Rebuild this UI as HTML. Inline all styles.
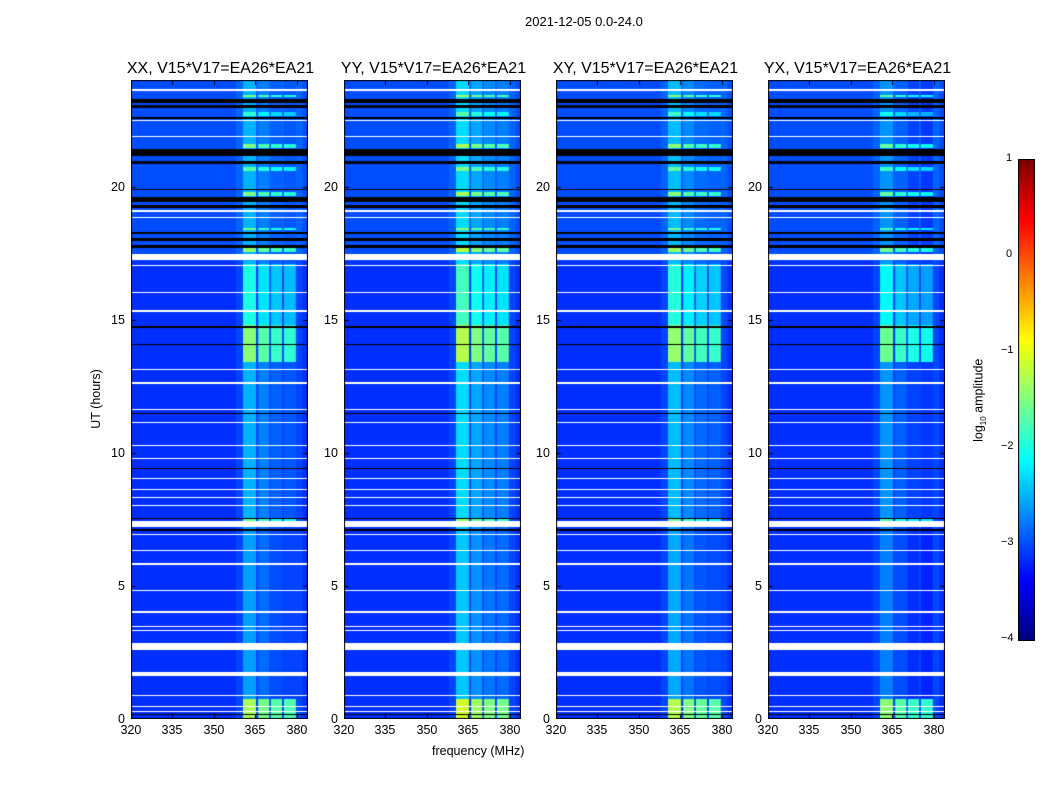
<!DOCTYPE html>
<html><head><meta charset="utf-8">
<style>
body{margin:0;background:#fff;font-family:"Liberation Sans",sans-serif;}
#wrap{position:relative;width:1050px;height:800px;overflow:hidden;}
.t{position:absolute;font-size:12.5px;color:#000;white-space:nowrap;}
.title{position:absolute;font-size:16px;white-space:nowrap;transform:translateX(-50%);}
canvas{position:absolute;}
</style></head>
<body>
<div id="wrap">
<div class="t" style="left:525px;top:14px;font-size:13px;">2021-12-05 0.0-24.0</div>
<div class="t" style="left:432px;top:744px;font-size:12.5px;">frequency (MHz)</div>
<div class="t" style="left:66px;top:392px;transform:rotate(-90deg);font-size:12.5px;">UT (hours)</div>
<div class="t" style="left:938px;top:392px;transform:rotate(-90deg);font-size:12.5px;">log<sub style="font-size:8px">10</sub> amplitude</div>
<canvas id="cb" width="17" height="482" style="left:1018px;top:159px;"></canvas>
</div>
<script>
const panelTitles=["XX, V15*V17=EA26*EA21","YY, V15*V17=EA26*EA21","XY, V15*V17=EA26*EA21","YX, V15*V17=EA26*EA21"];
const panelLeft=[131,344,556,768];
const panelBoost=[0,0.2,0.05,-0.15];
const xTicks=[320,335,350,365,380];
const yTicks=[0,5,10,15,20];
const cbTicks=[1,0,-1,-2,-3,-4];
const rfiBands=[[360.5,365.2],[366,370],[370.6,374.6],[375.3,379.6]];
const bandDrop=[0,0.25,0.4,0.45];
// [startHour,endHour,log10 level of RFI band]
const bandLevels=[[0,0.75,-1.3],[0.75,7.2,-2.6],[7.2,7.5,-1.6],[7.5,13.4,-2.5],[13.4,14.8,-1.45],[14.8,17.1,-2.0],[17.1,24,-2.5]];
// bright RFI rows in the upper part [start,end,level]
const brightRows=[[17.55,17.7,-1.4],[18.35,18.45,-1.6],[19.65,19.8,-1.5],[20.6,20.75,-1.7],[21.45,21.6,-1.5],[22.65,22.8,-1.9],[23.35,23.45,-1.5]];
const bgLevels=[[0,17.2,-3.15],[17.2,24,-3.0]];
// white (flagged) rows [start,end]
const whiteRows=[[0.25,0.3],[0.45,0.5],[0.85,0.9],[1.6,1.75],[2.6,2.85],[3.3,3.35],[3.45,3.5],[4.0,4.05],[4.8,4.85],[5.8,5.85],[6.3,6.35],[6.9,6.95],[7.2,7.45],[8.0,8.05],[8.3,8.35],[8.6,8.65],[9.0,9.05],[9.75,9.8],[10.25,10.3],[11.1,11.15],[11.6,11.65],[12.6,12.65],[13.1,13.15],[15.3,15.35],[16.0,16.05],[17.0,17.05],[17.25,17.45],[18.8,18.85],[19.05,19.1],[21.85,21.9],[22.45,22.5],[23.6,23.65]];
const blackRows=[[0.15,0.2],[7.05,7.12],[7.5,7.55],[9.38,9.43],[11.45,11.5],[14.05,14.1],[14.68,14.75],[17.7,17.8],[17.95,18.05],[18.2,18.3],[19.2,19.3],[19.4,19.6],[19.85,19.9],[20.85,20.95],[21.15,21.4],[22.55,22.6],[22.95,23.05],[23.15,23.3]];
const X0=320,X1=384,Y0=0,Y1=24,PW=177,PT=80,PH=639;
function jet(v){let t=Math.max(0,Math.min(1,(v+4)/5));
 const f=x=>Math.max(0,Math.min(1,1.5-Math.abs(4*t-x)));
 return 'rgb('+Math.round(255*f(3))+','+Math.round(255*f(2))+','+Math.round(255*f(1))+')';}
const wrap=document.getElementById('wrap');
function lvl(arr,h){for(const s of arr){if(h>=s[0]&&h<s[1])return s[2];}return arr[arr.length-1][2];}
function inR(arr,h){return arr.some(s=>h>=s[0]&&h<s[1]);}
panelTitles.forEach((title,p)=>{
 const L=panelLeft[p];
 const c=document.createElement('canvas');c.width=PW;c.height=PH;c.style.left=L+'px';c.style.top=PT+'px';
 
 
 wrap.appendChild(c);
 const g=c.getContext('2d');
 const xs=f=>(f-X0)/(X1-X0)*PW;
 for(let y=0;y<PH;y++){
  const h=Y1-(y+0.5)/PH*(Y1-Y0);
  if(inR(whiteRows,h)){g.fillStyle='#fff';g.fillRect(0,y,PW,1);continue;}
  if(inR(blackRows,h)){g.fillStyle='#000';g.fillRect(0,y,PW,1);continue;}
  g.fillStyle=jet(lvl(bgLevels,h));g.fillRect(0,y,PW,1);
  g.fillStyle=jet(lvl(bgLevels,h)+0.12);g.fillRect(xs(358),y,xs(382)-xs(358),1);
  let bl=lvl(bandLevels,h)+panelBoost[p];
  if(inR(brightRows,h)) bl=lvl(brightRows,h)+panelBoost[p];
  rfiBands.forEach((b,i)=>{g.fillStyle=jet(bl-bandDrop[i]);g.fillRect(xs(b[0]),y,xs(b[1])-xs(b[0]),1);});
 }
 g.strokeStyle='#000';g.lineWidth=1;g.strokeRect(0.5,0.5,PW-1,PH-1);
 xTicks.forEach(v=>{const x=Math.round(xs(v))+0.5;g.beginPath();g.moveTo(x,PH);g.lineTo(x,PH-5);g.moveTo(x,0);g.lineTo(x,5);g.stroke();
  const d=document.createElement('div');d.className='t';d.textContent=v;d.style.left=(L+x-11)+'px';d.style.top=(PT+PH+4)+'px';
  
  
  wrap.appendChild(d);});
 yTicks.forEach(v=>{const y=Math.round(PH-(v-Y0)/(Y1-Y0)*PH)+0.5;g.beginPath();g.moveTo(0,y);g.lineTo(5,y);g.moveTo(PW,y);g.lineTo(PW-5,y);g.stroke();
  const d=document.createElement('div');d.className='t';d.textContent=v;d.style.left=(L-6-(v>=10?14:7))+'px';d.style.top=(PT+y-8)+'px';
  
  
  wrap.appendChild(d);});
 const t=document.createElement('div');t.className='title';t.textContent=title;t.style.left=(L+PW/2+1)+'px';t.style.top='60px';
 
 
 wrap.appendChild(t);
});
const cb=document.getElementById('cb').getContext('2d');
for(let y=0;y<480;y++){cb.fillStyle=jet(1-(y+0.5)/480*5);cb.fillRect(1,y+1,15,1);}
cb.strokeStyle='#000';cb.strokeRect(0.5,0.5,16,481);
cbTicks.forEach(v=>{const y=160+(1-v)/5*480;
 const d=document.createElement('div');d.className='t';d.textContent=(v<0?'\u2212':'')+Math.abs(v);d.style.fontSize='11px';
 d.style.left=(v<0?1001:1006)+'px';d.style.top=(y-8)+'px';
 
 
 wrap.appendChild(d);});
</script>
</body></html>
